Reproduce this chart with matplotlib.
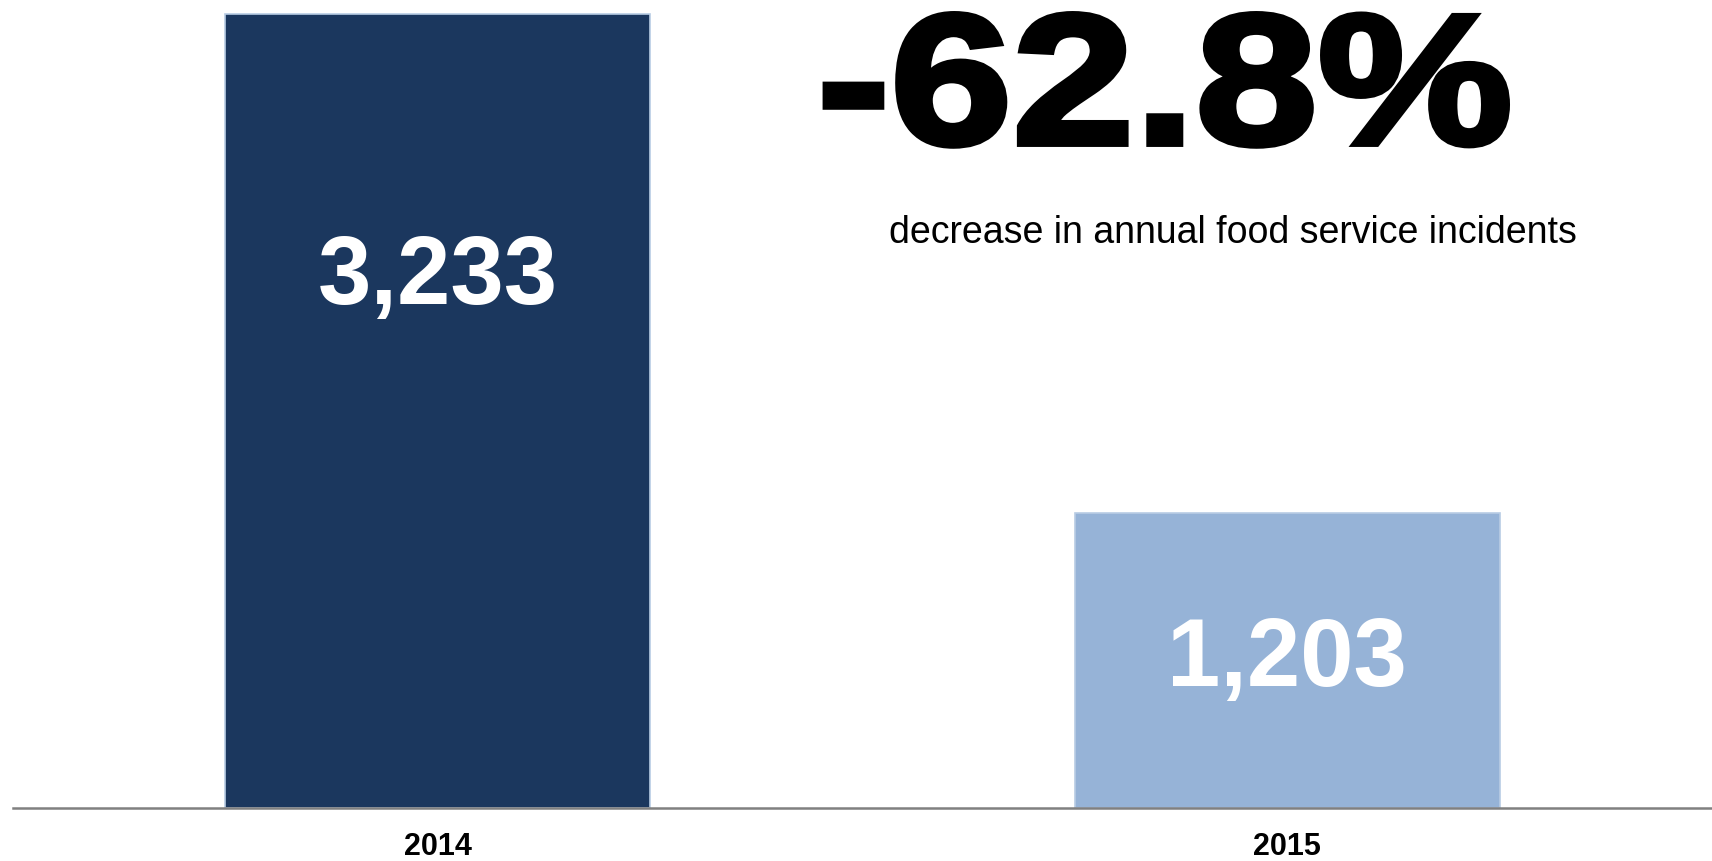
import matplotlib
matplotlib.use("Agg")
import matplotlib.pyplot as plt
from matplotlib.patheffects import AbstractPathEffect
from matplotlib.transforms import Affine2D

# Annual food service incidents
years = ["2014", "2015"]
incidents = [3233, 1203]
change_label = "-62.8%"
change_caption = "decrease in annual food service incidents"

bar_colors = ["#1B375E", "#96B3D7"]
label_height_frac = [0.666, 0.499]  # where each value label sits, as a share of its bar


class WideHeavy(AbstractPathEffect):
    """Widen text horizontally about a figure x position and embolden it with a stroke."""

    def __init__(self, fig, xfrac, sx, lw):
        super().__init__()
        self.fig, self.xfrac, self.sx, self.lw = fig, xfrac, sx, lw

    def draw_path(self, renderer, gc, tpath, affine, rgbFace=None):
        cx = self.fig.transFigure.transform((self.xfrac, 0))[0]
        stretch = Affine2D().translate(-cx, 0).scale(self.sx, 1).translate(cx, 0)
        gc0 = renderer.new_gc()
        gc0.copy_properties(gc)
        gc0.set_linewidth(self.lw)
        gc0.set_foreground(rgbFace if rgbFace is not None else "black")
        gc0.set_joinstyle("miter")
        renderer.draw_path(gc0, tpath, affine + stretch, rgbFace)
        gc0.restore()


plt.rcParams["font.family"] = ["Liberation Sans", "DejaVu Sans"]

fig = plt.figure(figsize=(17.12, 8.61), dpi=100)
ax = fig.add_axes([13 / 1712, 53 / 861, 1 - 13 / 1712, 798.2 / 861])

x = list(range(len(years)))
ax.bar(x, incidents, width=0.5, color=bar_colors,
       edgecolor="#B8CCE4", linewidth=1.2, zorder=2)

for xi, v, f in zip(x, incidents, label_height_frac):
    ax.text(xi, v * f, f"{v:,}", ha="center", va="center",
            color="white", fontsize=69, fontweight="bold", zorder=3)

ax.set_xlim(-0.5, 1.5)
ax.set_ylim(0, 3250)
ax.set_xticks(x)
ax.set_xticklabels(years, fontsize=22, fontweight="bold")
ax.tick_params(axis="x", length=0, pad=17)
ax.set_yticks([])
for side in ["top", "right", "left"]:
    ax.spines[side].set_visible(False)
ax.spines["bottom"].set_color("#808080")
ax.spines["bottom"].set_linewidth(1.8)
ax.spines["bottom"].set_zorder(4)

headline_x = 0.6805
fig.text(headline_x, 0.8328, change_label, ha="center", va="baseline",
         fontsize=134, fontweight="bold", color="black",
         path_effects=[WideHeavy(fig, headline_x, 1.18, 4.3)])
fig.text(0.7202, 0.7172, change_caption, ha="center", va="baseline",
         fontsize=27, color="black")

fig.savefig("out.png", dpi=100)
